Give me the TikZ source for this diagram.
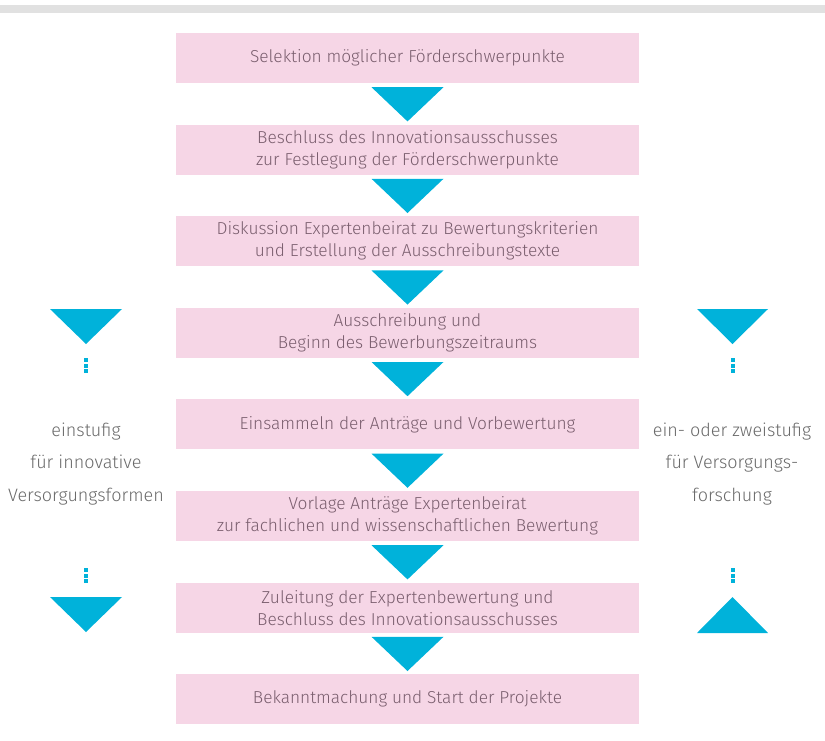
\documentclass[tikz,border=0pt]{standalone}
\usepackage{fontspec}
\setmainfont{Fira Sans}[UprightFont=* Light]
\usetikzlibrary{calc}
\definecolor{boxpink}{HTML}{F6D6E6}
\definecolor{boxtext}{HTML}{7A5E6E}
\definecolor{cyanarrow}{HTML}{00B2DA}
\definecolor{sidetext}{HTML}{6A6A6A}
\definecolor{bargray}{HTML}{E1E1E1}
\tikzset{
  stepbox/.style={fill=boxpink, draw=none, minimum width=463pt, minimum height=50pt,
    inner sep=0pt, align=center, text=boxtext, font=\fontsize{17.3}{22}\selectfont},
  tri/.style={fill=cyanarrow, draw=none},
  sidelabel/.style={text=sidetext, align=center, font=\fontsize{18}{32.5}\selectfont, inner sep=0pt},
  dotsq/.style={fill=cyanarrow, draw=none}
}
\begin{document}
\begin{tikzpicture}[x=1pt,y=-1pt]
\useasboundingbox (0,0) rectangle (825,740);
\fill[bargray] (0,5) rectangle (825,13);
\node[stepbox] (b1) at (407.5,58) {Selektion möglicher Förderschwerpunkte};
\node[stepbox] (b2) at (407.5,149.6) {Beschluss des Innovationsausschusses\\zur Festlegung der Förderschwerpunkte};
\node[stepbox] (b3) at (407.5,241.2) {Diskussion Expertenbeirat zu Bewertungskriterien\\und Erstellung der Ausschreibungstexte};
\node[stepbox] (b4) at (407.5,332.8) {Ausschreibung und\\Beginn des Bewerbungszeitraums};
\node[stepbox] (b5) at (407.5,424.4) {Einsammeln der Anträge und Vorbewertung};
\node[stepbox] (b6) at (407.5,516) {Vorlage Anträge Expertenbeirat\\zur fachlichen und wissenschaftlichen Bewertung};
\node[stepbox] (b7) at (407.5,607.6) {Zuleitung der Expertenbewertung und\\Beschluss des Innovationsausschusses};
\node[stepbox] (b8) at (407.5,699.2) {Bekanntmachung und Start der Projekte};
\foreach \a/\b in {b1/b2,b2/b3,b3/b4,b4/b5,b5/b6,b6/b7,b7/b8}{
  \fill[tri] ($(\a.south)+(-36,4)$) -- ($(\a.south)+(36,4)$) -- ($(\b.north)+(0,-3)$) -- cycle;
}
% side labels
\node[sidelabel] (lt) at (86,464) {einstufig\\für innovative\\Versorgungsformen};
\node[sidelabel] (rt) at (732,464) {ein- oder zweistufig\\für Versorgungs-\\forschung};
% left side arrows
\fill[tri] (50,309) -- (122,309) -- (86,344) -- cycle;
\foreach \y in {358,363.5,369} {\fill[dotsq] (84,\y) rectangle (88,\y+4);}
\foreach \y in {568,573.5,579} {\fill[dotsq] (84,\y) rectangle (88,\y+4);}
\fill[tri] (50,597) -- (122,597) -- (86,632) -- cycle;
% right side arrows
\fill[tri] (697,309) -- (768,309) -- (732.5,344) -- cycle;
\foreach \y in {358,363.5,369} {\fill[dotsq] (730.5,\y) rectangle (734.5,\y+4);}
\foreach \y in {568,573.5,579} {\fill[dotsq] (730.5,\y) rectangle (734.5,\y+4);}
\fill[tri] (697,633) -- (768,633) -- (732.5,597) -- cycle;
\end{tikzpicture}
\end{document}
